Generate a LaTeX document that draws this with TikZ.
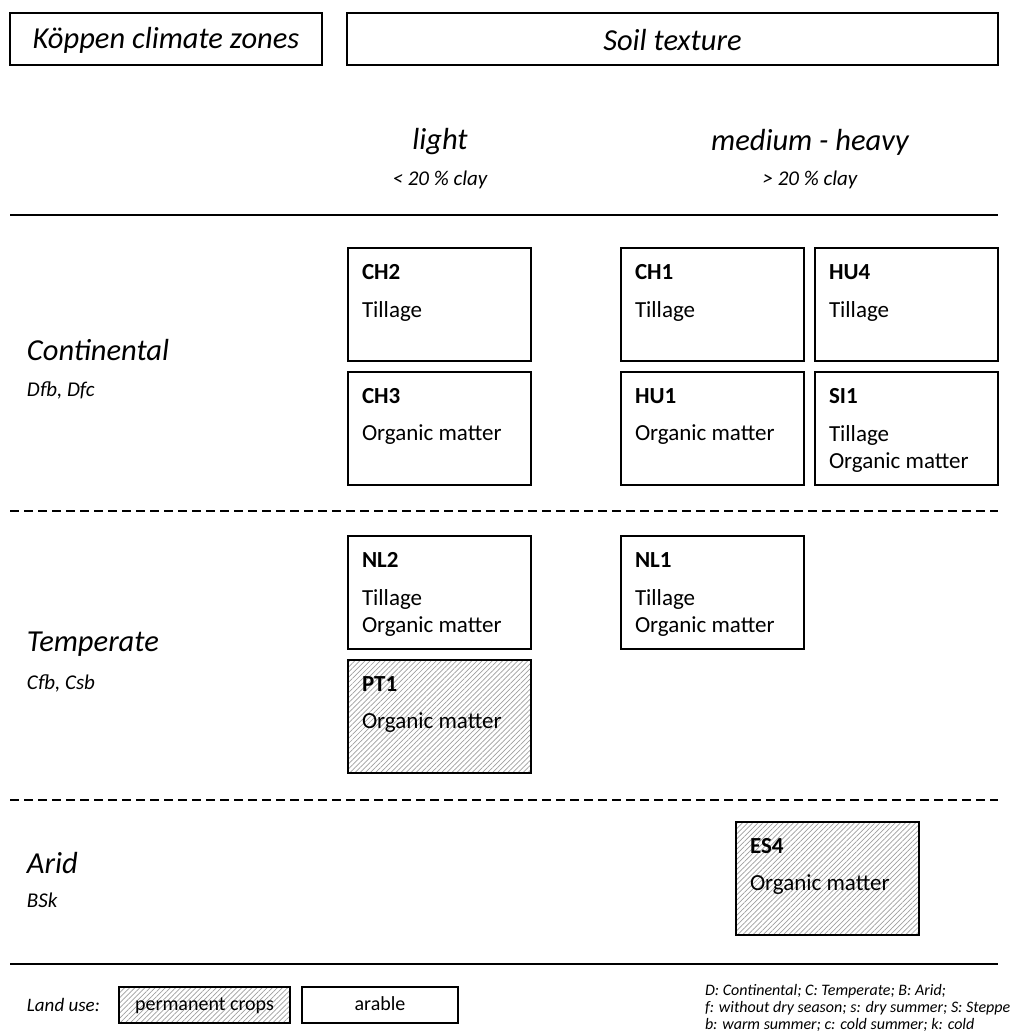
\documentclass[tikz,border=0pt]{standalone}
\usepackage{fontspec}
\setmainfont{Carlito}
\usetikzlibrary{patterns.meta,calc}
\begin{document}
\begin{tikzpicture}[x=1pt,y=-1pt,
  every node/.style={inner sep=0pt, outer sep=0pt},
  hdr/.style={draw, line width=1.8pt, minimum height=52pt, anchor=north west},
  cell/.style={draw, line width=2.2pt, minimum width=183pt, minimum height=113pt, anchor=north west},
  hatch/.style={pattern={Lines[angle=45,distance=3.6pt,line width=0.7pt]}, pattern color=black!38},
  big/.style={font=\fontsize{30.5}{36}\selectfont\itshape},
  bigw/.style={big, anchor=west},
  small/.style={font=\fontsize{21}{25}\selectfont\itshape},
  smallw/.style={small, anchor=west},
  code/.style={font=\fontsize{23}{28}\selectfont\bfseries, anchor=west},
  txt/.style={font=\fontsize{23}{28}\selectfont, anchor=west},
  sepline/.style={line width=2pt},
  dashline/.style={line width=1.6pt, dash pattern=on 9pt off 5pt},
  legbox/.style={draw, line width=1.6pt, minimum height=36pt, anchor=north west, font=\fontsize{20}{24}\selectfont, text height=14pt, text depth=4pt},
  note/.style={font=\fontsize{16}{18}\selectfont\itshape, anchor=west}
]
\useasboundingbox (0,0) rectangle (1011,1036);

% headers
\node[hdr, minimum width=312pt] (hk) at (10,13) {};
\node[big] (hkt) at ($(hk.center)+(0,1)$) {Köppen climate zones};
\node[hdr, minimum width=651pt] (hs) at (347,13) {};
\node[big] (hst) at ($(hs.center)+(0,1)$) {Soil texture};

\node[big] (light) at (440,142) {light};
\node[small] (lightc) at (440,180) {< 20 \% clay};
\node[big] (heavy) at (810,142) {medium - heavy};
\node[small] (heavyc) at (810,180) {> 20 \% clay};

% separators
\draw[sepline] (10,215) -- (998,215);
\draw[dashline] (10,511) -- (998,511);
\draw[dashline] (10,800) -- (998,800);
\draw[sepline] (10,964) -- (998,964);

% climate labels
\node[bigw] (cont) at (27,350) {Continental};
\node[smallw] (contc) at (27,390) {Dfb, Dfc};
\node[bigw] (temp) at (27,644) {Temperate};
\node[smallw] (tempc) at (27,683) {Cfb, Csb};
\node[bigw] (arid) at (27,863) {Arid};
\node[smallw] (aridc) at (27,900) {BSk};

% continental boxes
\node[cell] (ch2) at (348,248) {};
\node[code] (ch2a) at ($(ch2.north west)+(14,24)$) {CH2};
\node[txt] (ch2b) at ($(ch2.north west)+(14,63)$) {Tillage};

\node[cell] (ch3) at (348,372) {};
\node[code] (ch3a) at ($(ch3.north west)+(14,24)$) {CH3};
\node[txt] (ch3b) at ($(ch3.north west)+(14,63)$) {Organic matter};

\node[cell] (ch1) at (621,248) {};
\node[code] (ch1a) at ($(ch1.north west)+(14,24)$) {CH1};
\node[txt] (ch1b) at ($(ch1.north west)+(14,63)$) {Tillage};

\node[cell] (hu4) at (815,248) {};
\node[code] (hu4a) at ($(hu4.north west)+(14,24)$) {HU4};
\node[txt] (hu4b) at ($(hu4.north west)+(14,63)$) {Tillage};

\node[cell] (hu1) at (621,372) {};
\node[code] (hu1a) at ($(hu1.north west)+(14,24)$) {HU1};
\node[txt] (hu1b) at ($(hu1.north west)+(14,63)$) {Organic matter};

\node[cell] (si1) at (815,372) {};
\node[code] (si1a) at ($(si1.north west)+(14,24)$) {SI1};
\node[txt] (si1b) at ($(si1.north west)+(14,63)$) {Tillage};
\node[txt] (si1c) at ($(si1.north west)+(14,91)$) {Organic matter};

% temperate boxes
\node[cell] (nl2) at (348,536) {};
\node[code] (nl2a) at ($(nl2.north west)+(14,24)$) {NL2};
\node[txt] (nl2b) at ($(nl2.north west)+(14,63)$) {Tillage};
\node[txt] (nl2c) at ($(nl2.north west)+(14,91)$) {Organic matter};

\node[cell] (nl1) at (621,536) {};
\node[code] (nl1a) at ($(nl1.north west)+(14,24)$) {NL1};
\node[txt] (nl1b) at ($(nl1.north west)+(14,63)$) {Tillage};
\node[txt] (nl1c) at ($(nl1.north west)+(14,91)$) {Organic matter};

\node[cell, hatch] (pt1) at (348,660) {};
\node[code] (pt1a) at ($(pt1.north west)+(14,24)$) {PT1};
\node[txt] (pt1b) at ($(pt1.north west)+(14,63)$) {Organic matter};

% arid box
\node[cell, hatch] (es4) at (736,822) {};
\node[code] (es4a) at ($(es4.north west)+(14,24)$) {ES4};
\node[txt] (es4b) at ($(es4.north west)+(14,63)$) {Organic matter};

% legend
\node[anchor=west, font=\fontsize{19}{23}\selectfont\itshape] (lu) at (27,1005) {Land use:};
\node[legbox, hatch, minimum width=171pt] (perm) at (119,987) {permanent crops};
\node[legbox, minimum width=156pt] (arab) at (302,987) {arable};

\node[note] (n1) at (705,991) {D: Continental; C: Temperate; B: Arid;};
\node[note] (n2) at (705,1008) {f: without dry season; s: dry summer; S: Steppe};
\node[note] (n3) at (705,1025) {b: warm summer; c: cold summer; k: cold};
\end{tikzpicture}
\end{document}
